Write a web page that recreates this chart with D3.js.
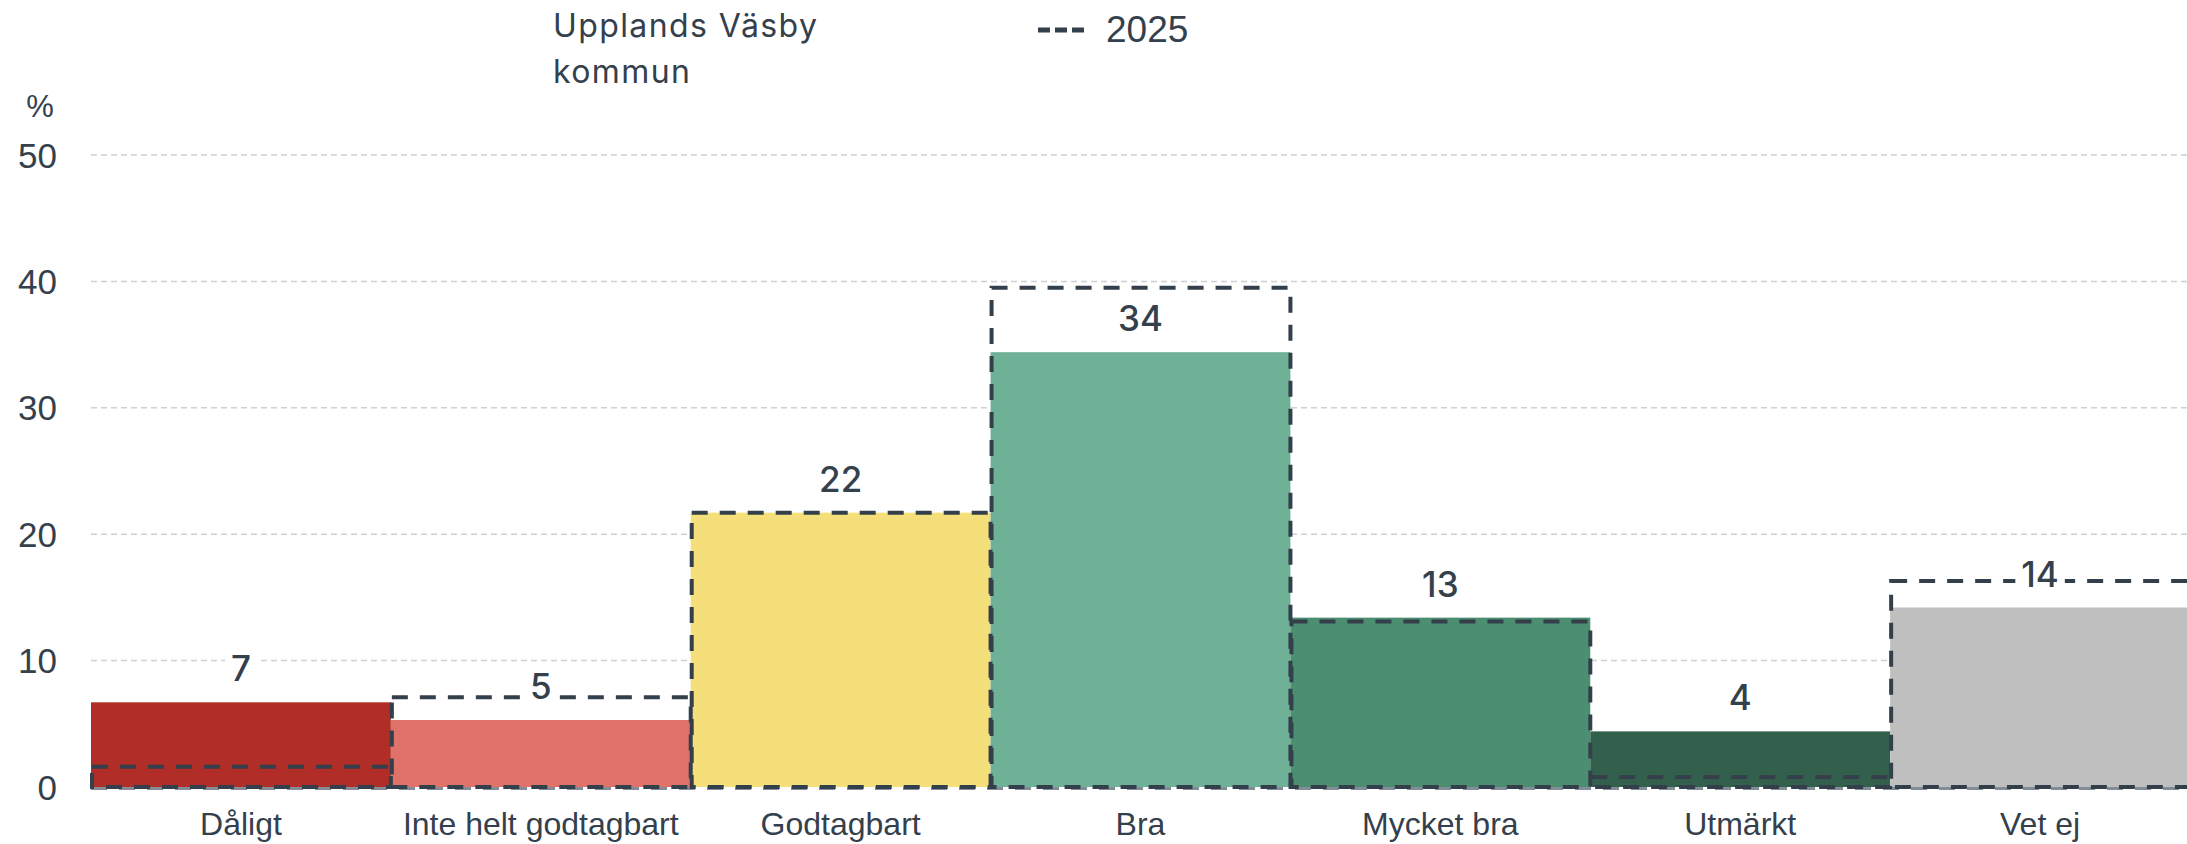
<!DOCTYPE html>
<meta charset="utf-8">
<style>
    body { margin: 0; background: #fff; }
    svg { display: block; }
    .axis-text { font-family: "Liberation Sans", Arial, sans-serif; fill: #34404c; }
    .legend-text { font-family: Inter, sans-serif; fill: #34404c; letter-spacing: 1.4px; }
    .value-label { font-family: Inter, sans-serif; font-weight: 500; fill: #34404c; }
    .grid line { stroke: #d0d0d0; stroke-width: 1.5px; stroke-dasharray: 6,4; }
</style>
<body>
<script src="https://cdn.jsdelivr.net/npm/d3@7"></script>
<script>
    // data
    var categories = ["Dåligt", "Inte helt godtagbart", "Godtagbart", "Bra", "Mycket bra", "Utmärkt", "Vet ej"];
    var values = [6.7, 5.3, 21.7, 34.4, 13.4, 4.4, 14.2];
    var values2025 = [1.6, 7.1, 21.7, 39.5, 13.1, 0.8, 16.3];
    var colors = ["#b02e27", "#e07369", "#f5df7b", "#6fb196", "#4c8e71", "#33604c", "#bfbfbf"];
    var yTicks = [0, 10, 20, 30, 40, 50];

    var width = 2187, height = 844;
    // the last bar runs just past the right edge of the picture
    var plot = { left: 91, right: 2190, top: 155, bottom: 787 };

    var svg = d3.select("body").append("svg")
        .attr("width", width)
        .attr("height", height);

    var x = d3.scaleBand()
        .domain(categories)
        .range([plot.left, plot.right])
        .paddingInner(0)
        .paddingOuter(0);

    var y = d3.scaleLinear()
        .domain([0, 50])
        .range([plot.bottom, plot.top]);

    // gridlines
    svg.append("g").attr("class", "grid")
        .selectAll("line")
        .data(yTicks.slice(1))
        .enter().append("line")
        .attr("x1", plot.left).attr("x2", width)
        .attr("y1", function(d) { return y(d); })
        .attr("y2", function(d) { return y(d); });

    // y tick labels
    svg.append("g")
        .selectAll("text")
        .data(yTicks)
        .enter().append("text")
        .attr("class", "axis-text")
        .attr("x", 57)
        .attr("y", function(d) { return y(d); })
        .attr("dy", "0.36em")
        .attr("text-anchor", "end")
        .style("font-size", "35px")
        .text(function(d) { return d; });

    svg.append("text")
        .attr("class", "axis-text")
        .attr("x", 40).attr("y", 117)
        .attr("text-anchor", "middle")
        .style("font-size", "31px")
        .text("%");

    // bars
    svg.append("g")
        .selectAll("rect")
        .data(categories)
        .enter().append("rect")
        .attr("x", function(d) { return x(d); })
        .attr("y", function(d, i) { return y(values[i]); })
        .attr("width", x.bandwidth())
        .attr("height", function(d, i) { return y(0) - y(values[i]); })
        .attr("fill", function(d, i) { return colors[i]; });

    // baseline
    svg.append("line")
        .attr("x1", plot.left).attr("x2", width)
        .attr("y1", y(0) + 1.5).attr("y2", y(0) + 1.5)
        .attr("stroke", "#848d97")
        .attr("stroke-width", 3)
        .attr("stroke-dasharray", "16,12");

    // 2025 outlines
    svg.append("g")
        .selectAll("rect")
        .data(categories)
        .enter().append("rect")
        .attr("x", function(d) { return x(d) + 1; })
        .attr("y", function(d, i) { return y(values2025[i]); })
        .attr("width", x.bandwidth() - 1)
        .attr("height", function(d, i) { return y(0) - y(values2025[i]); })
        .attr("fill", "none")
        .attr("stroke", "#333f4b")
        .attr("stroke-width", 4)
        .attr("stroke-dasharray", "16,12");

    // value labels with white background
    var labels = svg.append("g")
        .selectAll("g")
        .data(categories)
        .enter().append("g")
        .attr("transform", function(d, i) {
            return "translate(" + (x(d) + x.bandwidth() / 2) + "," + (y(values[i]) - 21) + ")";
        });

    labels.append("rect").attr("fill", "#fff");

    labels.append("text")
        .attr("class", "value-label")
        .attr("text-anchor", "middle")
        .style("font-size", "35px")
        .text(function(d, i) { return Math.round(values[i]); });

    labels.each(function() {
        var g = d3.select(this);
        var w = g.select("text").node().getComputedTextLength();
        g.select("rect")
            .attr("x", -w / 2 - 6).attr("y", -31)
            .attr("width", w + 12).attr("height", 38);
    });

    // x labels
    svg.append("g")
        .selectAll("text")
        .data(categories)
        .enter().append("text")
        .attr("class", "axis-text")
        .attr("x", function(d) { return x(d) + x.bandwidth() / 2; })
        .attr("y", 835)
        .attr("text-anchor", "middle")
        .style("font-size", "32px")
        .text(function(d) { return d; });

    // legend
    svg.append("text")
        .attr("class", "legend-text")
        .attr("x", 553).attr("y", 37)
        .style("font-size", "32px")
        .text("Upplands Väsby");
    svg.append("text")
        .attr("class", "legend-text")
        .attr("x", 553).attr("y", 83)
        .style("font-size", "32px")
        .text("kommun");

    svg.append("line")
        .attr("x1", 1038).attr("x2", 1085)
        .attr("y1", 30).attr("y2", 30)
        .attr("stroke", "#333f4b")
        .attr("stroke-width", 5)
        .attr("stroke-dasharray", "12,5");
    svg.append("text")
        .attr("class", "axis-text")
        .attr("x", 1106).attr("y", 42)
        .style("font-size", "37px")
        .text("2025");
</script>
</body>
